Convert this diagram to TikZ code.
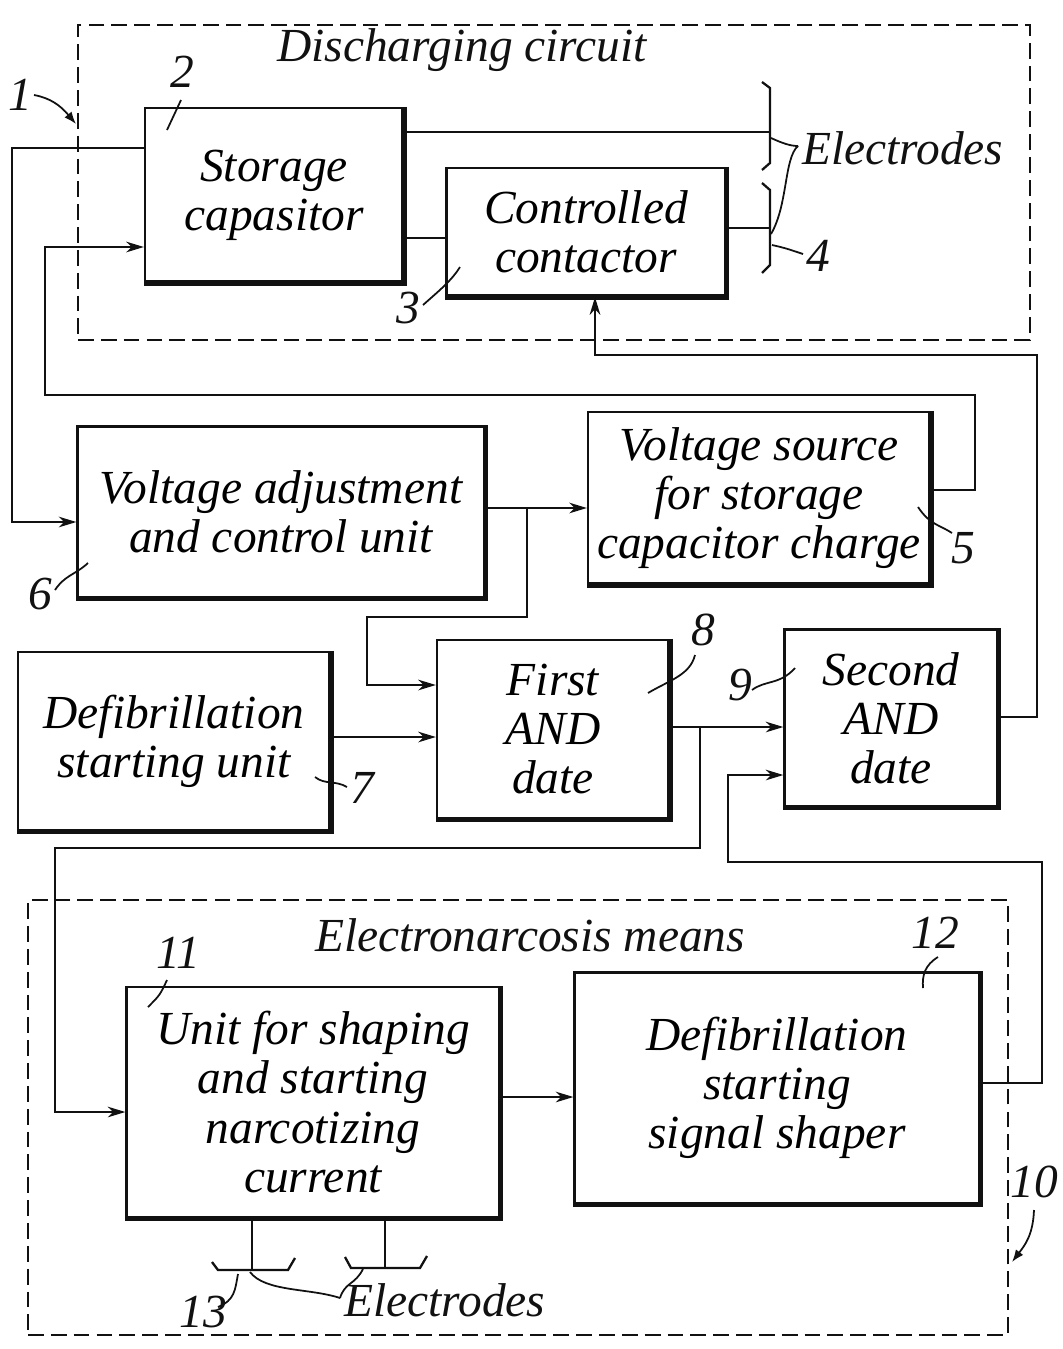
\documentclass[tikz,border=0pt]{standalone}
\usepackage{fontspec}
\setmainfont{Liberation Serif}
\usetikzlibrary{positioning, arrows.meta, fit, calc}
\definecolor{ink}{HTML}{111111}
\newcommand{\figfont}{\fontsize{27}{28}\selectfont\itshape}
\tikzset{
  blk/.style={draw=ink, line width=1.3pt, align=center, inner sep=2pt, font=\figfont},
  arr/.style={-{Stealth[length=10pt, width=6pt, inset=3pt]}, line width=1.3pt, draw=ink},
  ln/.style={line width=1.3pt, draw=ink},
  grp/.style={draw=ink, line width=1.3pt, dash pattern=on 9pt off 4pt, inner sep=0pt},
  grpt/.style={font=\figfont, text=ink, inner sep=1pt},
  num/.style={font=\figfont, text=ink, inner sep=1pt},
  ldr/.style={line width=1pt, draw=ink},
  shd/.style={line width=3pt, draw=ink},
}

\begin{document}
\begin{tikzpicture}[x=0.02cm, y=-0.02cm]
        \useasboundingbox (0,0) rectangle (1062,1349);
        % discharging circuit
        \node[grp, fit={(78,25) (1030,340)}] (dc) {};
        \node[grpt] (dct) at (462,50) {Discharging circuit};
        \node[blk, minimum width=5.16cm, minimum height=3.48cm] (sc) at (274,195) {Storage\\capasitor};
        \node[blk, minimum width=5.58cm, minimum height=2.56cm] (cc) at (586,232) {Controlled\\contactor};
        % blocks between
        \node[blk, minimum width=8.14cm, minimum height=3.42cm] (va) at (281,512) {Voltage adjustment\\and control unit};
        \node[blk, minimum width=6.84cm, minimum height=3.44cm] (vs) at (759,498) {Voltage source\\for storage\\capacitor charge};
        \node[blk, minimum width=6.24cm, minimum height=3.56cm] (ds) at (174,741) {Defibrillation\\starting unit};
        \node[blk, minimum width=4.64cm, minimum height=3.56cm] (and1) at (553,729) {First\\AND\\date};
        \node[blk, minimum width=4.26cm, minimum height=3.54cm] (and2) at (891,718) {Second\\AND\\date};
        % electronarcosis means
        \node[grp, fit={(28,900) (1008,1335)}] (en) {};
        \node[grpt] (ent) at (530,935) {Electronarcosis means};
        \node[blk, minimum width=7.46cm, minimum height=4.6cm] (un) at (313,1102) {Unit for shaping\\and starting\\narcotizing\\current};
        \node[blk, minimum width=8.1cm, minimum height=4.62cm] (sh) at (777,1088) {Defibrillation\\starting\\signal shaper};
        \foreach \n in {sc,cc,va,vs,ds,and1,and2,un,sh}
          \draw[shd] (\n.north east) -- (\n.south east) -- (\n.south west);

        % electrodes 4
        \draw[ln] (sc.east |- 0,132) -- (770,132);
        \draw[ln] (sc.east |- 0,238) -- (cc.west |- 0,238);
        \draw[ln] (cc.east |- 0,228) -- (770,228);
        \draw[ln] (762,82) -- (770,88) -- (770,163) -- (762,170);
        \draw[ln] (762,183) -- (770,190) -- (770,265) -- (762,273);
        \draw[ldr] (771,138) .. controls (782,143) and (790,146) .. (798,146);
        \draw[ldr] (798,146) .. controls (784,158) and (788,205) .. (771,234);
        \node[num, anchor=west] (el1) at (800,148) {Electrodes};

        % connectors
        \draw[arr] (sc.west |- 0,148) -| (12,522) -- (va.west |- 0,522);
        \draw[arr] (vs.east |- 0,490) -| (975,395) -| (45,247) -- (sc.west |- 0,247);
        \draw[arr] (and2.east |- 0,717) -| (1037,355) -| (cc.south -| 595,0);
        \draw[arr] (va.east |- 0,508) -- (vs.west |- 0,508);
        \coordinate (j1) at (527,508);
        \draw[arr] (j1) |- (367,617) |- (and1.west |- 0,685);
        \draw[arr] (ds.east |- 0,737) -- (and1.west |- 0,737);
        \draw[arr] (and1.east |- 0,727) -- (and2.west |- 0,727);
        \coordinate (j2) at (700,727);
        \draw[arr] (j2) |- (55,848) |- (un.west |- 0,1112);
        \draw[arr] (un.east |- 0,1097) -- (sh.west |- 0,1097);
        \draw[arr] (sh.east |- 0,1083) -| (1042,862) -| (728,775) -- (and2.west |- 0,775);

        % electrodes 13
        \draw[ln] (un.south -| 252,0) -- (252,1270);
        \draw[ln] (un.south -| 385,0) -- (385,1268);
        \draw[ln] (212,1262) -- (218,1270) -- (288,1270) -- (295,1258);
        \draw[ln] (345,1257) -- (351,1268) -- (420,1268) -- (427,1256);
        \draw[ldr] (250,1272) .. controls (265,1292) and (310,1288) .. (340,1298);
        \draw[ldr] (363,1269) .. controls (355,1285) and (345,1282) .. (340,1298);
        \node[num, anchor=west] (el2) at (342,1300) {Electrodes};

        % reference numbers
        \node[num] (n1) at (20,95) {1};
        \draw[ldr, -{Latex[length=7pt]}] (n1.east) .. controls (50,98) and (60,105) .. (76,124);
        \node[num] (n2) at (182,72) {2};
        \draw[ldr] (181,100) -- (167,130);
        \node[num] (n3) at (408,308) {3};
        \draw[ldr] (423,305) .. controls (440,290) and (452,280) .. (460,267);
        \node[num] (n4) at (818,256) {4};
        \draw[ldr] (772,245) .. controls (785,248) .. (803,254);
        \node[num] (n5) at (963,548) {5};
        \draw[ldr] (918,507) .. controls (930,525) and (940,525) .. (952,533);
        \node[num] (n6) at (40,594) {6};
        \draw[ldr] (55,590) .. controls (65,575) and (75,575) .. (88,563);
        \node[num] (n7) at (362,788) {7};
        \draw[ldr] (315,777) .. controls (325,785) and (335,780) .. (347,787);
        \node[num] (n8) at (703,630) {8};
        \draw[ldr] (695,655) .. controls (690,675) and (670,680) .. (648,693);
        \node[num] (n9) at (740,685) {9};
        \draw[ldr] (752,690) .. controls (765,680) and (780,685) .. (795,668);
        \node[num] (n10) at (1034,1182) {10};
        \draw[ldr, -{Latex[length=7pt]}] (1034,1210) .. controls (1033,1235) and (1025,1245) .. (1012,1262);
        \node[num] (n11) at (178,953) {11};
        \draw[ldr] (167,980) .. controls (160,995) .. (148,1007);
        \node[num] (n12) at (935,933) {12};
        \draw[ldr] (938,957) .. controls (925,965) and (922,975) .. (923,988);
        \node[num] (n13) at (203,1312) {13};
        \draw[ldr] (218,1307) .. controls (235,1300) and (235,1290) .. (238,1274);
\end{tikzpicture}
\end{document}
